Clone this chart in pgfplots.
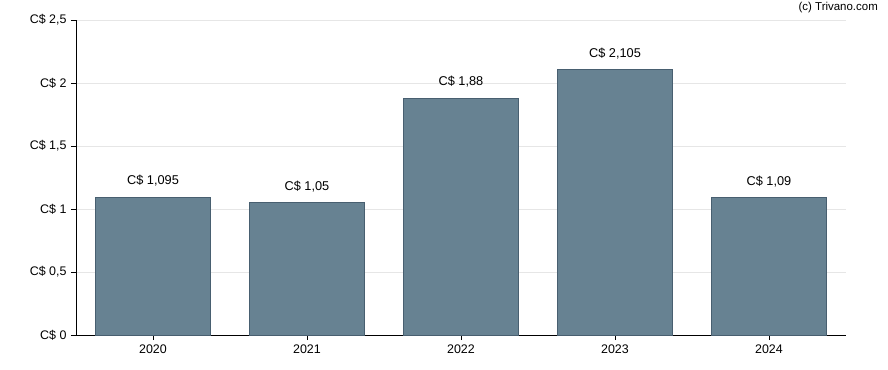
\documentclass[border=0pt]{standalone}
\usepackage{pgfplots}
\pgfplotsset{compat=1.18}
\usepackage{fontspec}
\setmainfont{Liberation Sans}
\definecolor{barfill}{RGB}{103,130,146}
\definecolor{baredge}{RGB}{72,95,112}
\definecolor{gridc}{RGB}{230,230,230}
\begin{document}
\begin{tikzpicture}
\begin{axis}[
  at={(0,0)}, anchor=south west,
  scale only axis, width=770bp, height=315bp,
  xmin=-0.5, xmax=4.5, ymin=0, ymax=2.5,
  axis lines*=left,
  axis line style={black, line width=0.9pt},
  xtick={0,1,2,3,4},
  xticklabels={2020,2021,2022,2023,2024},
  ytick={0,0.5,1,1.5,2,2.5},
  yticklabels={{C\$ 0},{C\$ 0,5},{C\$ 1},{C\$ 1,5},{C\$ 2},{C\$ 2,5}},
  tick align=outside,
  major tick length=5bp,
  tick style={black, line width=0.9pt},
  ymajorgrids, grid style={gridc, line width=0.8pt},
  xmajorgrids=false,
  ticklabel style={font=\fontsize{12.5}{14}\selectfont},
  yticklabel style={xshift=-1bp},
  xticklabel style={yshift=-1bp},
  enlargelimits=false,
  clip=false,
]
\addplot[ybar, bar width=0.75, fill=barfill, draw=baredge, line width=0.8pt,
  nodes near coords, point meta=explicit symbolic,
  every node near coord/.append style={font=\fontsize{12.8}{14}\selectfont, black, yshift=7bp}]
  coordinates {
  (0,1.095) [C\$ 1,095]
  (1,1.05) [C\$ 1,05]
  (2,1.88) [C\$ 1,88]
  (3,2.105) [C\$ 2,105]
  (4,1.09) [C\$ 1,09]
  };
\end{axis}
\node[anchor=north east, font=\fontsize{11.5}{13}\selectfont, inner sep=0pt] at (802bp,333bp) {(c) Trivano.com};
\path[use as bounding box] (-76bp,-35bp) rectangle (812bp,335bp);
\end{tikzpicture}
\end{document}
